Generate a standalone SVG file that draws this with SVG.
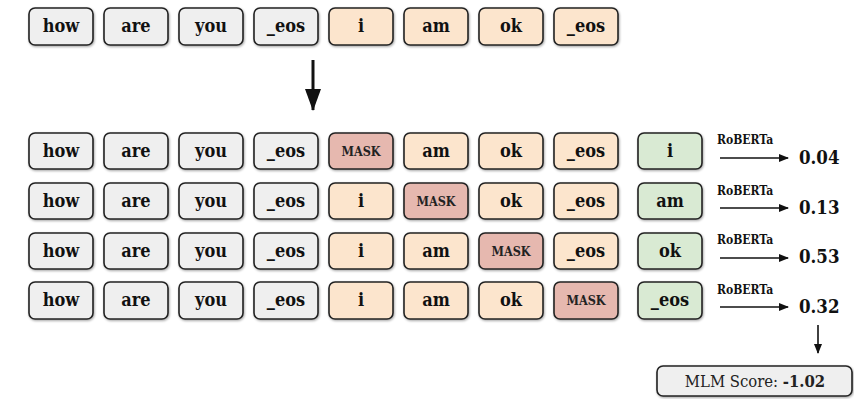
<svg xmlns="http://www.w3.org/2000/svg" width="854" height="399" viewBox="0 0 854 399">
<style>
.b{stroke:#222;stroke-width:1.6;filter:url(#sh)}
.g{fill:#efefef}.o{fill:#fce5cd}.m{fill:#e6b8af}.v{fill:#d9ead3}
.t,.k,.r,.n,.s{font-family:"DejaVu Serif","Liberation Serif",serif;font-stretch:condensed}
.t{font-weight:bold;font-size:18px;fill:#111;text-anchor:middle}
.k{font-weight:bold;font-size:12.5px;fill:#222;text-anchor:middle}
.r{font-weight:bold;font-size:12px;fill:#111}
.n{font-weight:bold;font-size:18.5px;fill:#111}
.s{font-size:16.5px;fill:#222}
</style>
<defs>
<filter id="sh" x="-10%" y="-10%" width="125%" height="130%">
<feDropShadow dx="0.8" dy="1.2" stdDeviation="0.9" flood-color="#000" flood-opacity="0.35"/>
</filter>
<marker id="ah" markerWidth="10" markerHeight="8" refX="9" refY="4" orient="auto" markerUnits="userSpaceOnUse">
<path d="M0,0 L10,4 L0,8 z" fill="#111"/>
</marker>
<marker id="big" markerWidth="16" markerHeight="22" refX="8" refY="21" orient="0" markerUnits="userSpaceOnUse">
<path d="M0,0 L16,0 L8,22 z" fill="#111"/>
</marker>
</defs>

<g id="row0">
<g id="r0c0"><rect class="b g" x="29" y="8" width="64" height="37" rx="6"/><text class="t" x="61" y="32">how</text></g>
<g id="r0c1"><rect class="b g" x="104" y="8" width="64" height="37" rx="6"/><text class="t" x="136" y="32">are</text></g>
<g id="r0c2"><rect class="b g" x="179" y="8" width="64" height="37" rx="6"/><text class="t" x="211" y="32">you</text></g>
<g id="r0c3"><rect class="b g" x="254" y="8" width="64" height="37" rx="6"/><text class="t" x="286" y="32">_eos</text></g>
<g id="r0c4"><rect class="b o" x="329" y="8" width="64" height="37" rx="6"/><text class="t" x="361" y="32">i</text></g>
<g id="r0c5"><rect class="b o" x="404" y="8" width="64" height="37" rx="6"/><text class="t" x="436" y="32">am</text></g>
<g id="r0c6"><rect class="b o" x="479" y="8" width="64" height="37" rx="6"/><text class="t" x="511" y="32">ok</text></g>
<g id="r0c7"><rect class="b o" x="554" y="8" width="64" height="37" rx="6"/><text class="t" x="586" y="32">_eos</text></g>
</g>

<g id="row1">
<g id="r1c0"><rect class="b g" x="29" y="133" width="64" height="36" rx="6"/><text class="t" x="61" y="157">how</text></g>
<g id="r1c1"><rect class="b g" x="104" y="133" width="64" height="36" rx="6"/><text class="t" x="136" y="157">are</text></g>
<g id="r1c2"><rect class="b g" x="179" y="133" width="64" height="36" rx="6"/><text class="t" x="211" y="157">you</text></g>
<g id="r1c3"><rect class="b g" x="254" y="133" width="64" height="36" rx="6"/><text class="t" x="286" y="157">_eos</text></g>
<g id="r1c4"><rect class="b m" x="329" y="133" width="64" height="36" rx="6"/><text class="k" x="361" y="155.5">MASK</text></g>
<g id="r1c5"><rect class="b o" x="404" y="133" width="64" height="36" rx="6"/><text class="t" x="436" y="157">am</text></g>
<g id="r1c6"><rect class="b o" x="479" y="133" width="64" height="36" rx="6"/><text class="t" x="511" y="157">ok</text></g>
<g id="r1c7"><rect class="b o" x="554" y="133" width="64" height="36" rx="6"/><text class="t" x="586" y="157">_eos</text></g>
<g id="r1t"><rect class="b v" x="638" y="133" width="64" height="36" rx="6"/><text class="t" x="670" y="157">i</text></g>
</g>

<g id="row2">
<g id="r2c0"><rect class="b g" x="29" y="183" width="64" height="36" rx="6"/><text class="t" x="61" y="207">how</text></g>
<g id="r2c1"><rect class="b g" x="104" y="183" width="64" height="36" rx="6"/><text class="t" x="136" y="207">are</text></g>
<g id="r2c2"><rect class="b g" x="179" y="183" width="64" height="36" rx="6"/><text class="t" x="211" y="207">you</text></g>
<g id="r2c3"><rect class="b g" x="254" y="183" width="64" height="36" rx="6"/><text class="t" x="286" y="207">_eos</text></g>
<g id="r2c4"><rect class="b o" x="329" y="183" width="64" height="36" rx="6"/><text class="t" x="361" y="207">i</text></g>
<g id="r2c5"><rect class="b m" x="404" y="183" width="64" height="36" rx="6"/><text class="k" x="436" y="205.5">MASK</text></g>
<g id="r2c6"><rect class="b o" x="479" y="183" width="64" height="36" rx="6"/><text class="t" x="511" y="207">ok</text></g>
<g id="r2c7"><rect class="b o" x="554" y="183" width="64" height="36" rx="6"/><text class="t" x="586" y="207">_eos</text></g>
<g id="r2t"><rect class="b v" x="638" y="183" width="64" height="36" rx="6"/><text class="t" x="670" y="207">am</text></g>
</g>

<g id="row3">
<g id="r3c0"><rect class="b g" x="29" y="233" width="64" height="36" rx="6"/><text class="t" x="61" y="257">how</text></g>
<g id="r3c1"><rect class="b g" x="104" y="233" width="64" height="36" rx="6"/><text class="t" x="136" y="257">are</text></g>
<g id="r3c2"><rect class="b g" x="179" y="233" width="64" height="36" rx="6"/><text class="t" x="211" y="257">you</text></g>
<g id="r3c3"><rect class="b g" x="254" y="233" width="64" height="36" rx="6"/><text class="t" x="286" y="257">_eos</text></g>
<g id="r3c4"><rect class="b o" x="329" y="233" width="64" height="36" rx="6"/><text class="t" x="361" y="257">i</text></g>
<g id="r3c5"><rect class="b o" x="404" y="233" width="64" height="36" rx="6"/><text class="t" x="436" y="257">am</text></g>
<g id="r3c6"><rect class="b m" x="479" y="233" width="64" height="36" rx="6"/><text class="k" x="511" y="255.5">MASK</text></g>
<g id="r3c7"><rect class="b o" x="554" y="233" width="64" height="36" rx="6"/><text class="t" x="586" y="257">_eos</text></g>
<g id="r3t"><rect class="b v" x="638" y="233" width="64" height="36" rx="6"/><text class="t" x="670" y="257">ok</text></g>
</g>

<g id="row4">
<g id="r4c0"><rect class="b g" x="29" y="282" width="64" height="37" rx="6"/><text class="t" x="61" y="306">how</text></g>
<g id="r4c1"><rect class="b g" x="104" y="282" width="64" height="37" rx="6"/><text class="t" x="136" y="306">are</text></g>
<g id="r4c2"><rect class="b g" x="179" y="282" width="64" height="37" rx="6"/><text class="t" x="211" y="306">you</text></g>
<g id="r4c3"><rect class="b g" x="254" y="282" width="64" height="37" rx="6"/><text class="t" x="286" y="306">_eos</text></g>
<g id="r4c4"><rect class="b o" x="329" y="282" width="64" height="37" rx="6"/><text class="t" x="361" y="306">i</text></g>
<g id="r4c5"><rect class="b o" x="404" y="282" width="64" height="37" rx="6"/><text class="t" x="436" y="306">am</text></g>
<g id="r4c6"><rect class="b o" x="479" y="282" width="64" height="37" rx="6"/><text class="t" x="511" y="306">ok</text></g>
<g id="r4c7"><rect class="b m" x="554" y="282" width="64" height="37" rx="6"/><text class="k" x="586" y="305">MASK</text></g>
<g id="r4t"><rect class="b v" x="638" y="282" width="64" height="37" rx="6"/><text class="t" x="670" y="306">_eos</text></g>
</g>

<g id="scores">
<text class="r" x="717" y="144">RoBERTa</text><text class="n" x="799" y="164">0.04</text>
<text class="r" x="717" y="195">RoBERTa</text><text class="n" x="799" y="214">0.13</text>
<text class="r" x="717" y="244">RoBERTa</text><text class="n" x="799" y="263">0.53</text>
<text class="r" x="717" y="294">RoBERTa</text><text class="n" x="799" y="313">0.32</text>
</g>

<g id="result">
<rect class="b g" x="657" y="366" width="195" height="30" rx="6"/>
<text class="s" x="755" y="387" text-anchor="middle">MLM Score: <tspan font-weight="bold">-1.02</tspan></text>
</g>

<g id="connectors" stroke="#111" fill="none">
<line x1="313" y1="60" x2="313" y2="110" stroke-width="3" marker-end="url(#big)"/>
<line x1="720" y1="158" x2="788" y2="158" stroke-width="1.6" marker-end="url(#ah)"/>
<line x1="720" y1="208" x2="788" y2="208" stroke-width="1.6" marker-end="url(#ah)"/>
<line x1="720" y1="258" x2="788" y2="258" stroke-width="1.6" marker-end="url(#ah)"/>
<line x1="720" y1="307" x2="788" y2="307" stroke-width="1.6" marker-end="url(#ah)"/>
<line x1="818" y1="325" x2="818" y2="353" stroke-width="1.6" marker-end="url(#ah)"/>
</g>
</svg>
